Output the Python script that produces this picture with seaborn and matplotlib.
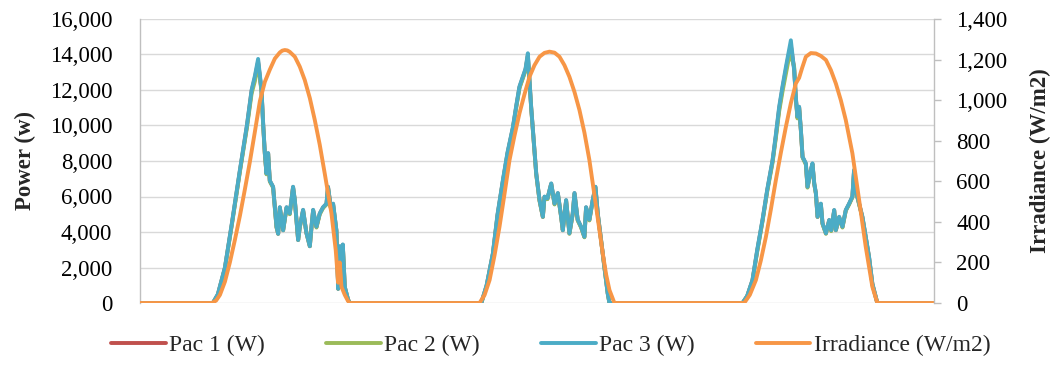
import matplotlib
matplotlib.use("Agg")
import matplotlib.pyplot as plt
import seaborn as sns
from matplotlib.ticker import FuncFormatter

# ---------------- data (time in hours from start of day 1) ----------------
power_hours = [
    0.0,
    6.61, 7.06, 7.70, 8.33, 9.06, 9.69, 10.12, 10.42, 10.71, 11.02, 11.17, 11.32,
    11.47, 11.62, 11.77, 12.07, 12.38, 12.53, 12.68, 12.98, 13.29, 13.58, 13.88,
    14.04, 14.34, 14.49, 14.79, 15.09, 15.40, 15.55, 15.70, 16.00, 16.30, 16.60,
    16.91, 17.05, 17.30, 17.51, 17.81, 17.97, 18.11, 18.27, 18.39, 18.57, 18.86, 19.02,
    30.95, 31.43, 32.00, 32.42, 32.90, 33.33, 33.81, 34.14, 34.41, 34.71, 34.96,
    35.17, 35.47, 35.77, 35.93, 36.23, 36.53, 36.68, 36.95, 37.29, 37.59, 37.89,
    38.19, 38.34, 38.64, 38.94, 39.24, 39.40, 39.69, 40.00, 40.30, 40.45, 40.75,
    41.05, 41.30, 41.51, 41.81, 42.11, 42.41, 42.57,
    54.64, 55.06, 55.54, 55.97, 56.45, 56.88, 57.36, 57.66, 57.96, 58.26, 58.57,
    58.78, 59.02, 59.32, 59.47, 59.62, 59.77, 59.93, 60.08, 60.38, 60.53, 60.83,
    60.98, 61.14, 61.29, 61.44, 61.74, 61.89, 62.20, 62.50, 62.68, 62.95, 63.10,
    63.40, 63.70, 64.00, 64.30, 64.60, 64.75, 64.91, 65.21, 65.51, 65.81, 66.11,
    66.41, 66.72, 66.86,
    72.0,
]

pac3 = [
    0,
    0, 500, 2000, 4500, 7500, 10000, 12000, 12800, 13750, 12000, 10100, 8450,
    7300, 8450, 6900, 6550, 4300, 3900, 5400, 4100, 5400, 5050, 6550,
    5800, 3550, 4300, 5250, 3950, 3200, 4300, 5250, 4300, 5050, 5400,
    5600, 6550, 5400, 5600, 4100, 800, 3200, 2400, 3300, 900, 200, 0,
    0, 1000, 2800, 5000, 6900, 8500, 9900, 11200, 12200, 12750, 13200,
    14070, 11060, 8600, 7300, 5800, 4860, 6000, 5900, 6740, 5600, 6200,
    4860, 4100, 5800, 3930, 5050, 6200, 4700, 4300, 3730, 5400, 4700,
    5800, 6550, 5050, 3550, 2050, 550, 0,
    0, 400, 1300, 3000, 4700, 6400, 8050, 9500, 11060, 12200, 13300,
    14000, 14800, 13100, 11600, 10500, 11060, 9750, 8240, 7870, 6550, 7500,
    7870, 6740, 6200, 4860, 5600, 4500, 3930, 4680, 4100, 5240, 4110,
    4860, 4300, 5240, 5600, 6000, 7500, 6370, 5600, 4860, 3730, 2600,
    1100, 350, 0,
    0,
]

pac2 = [
    0,
    0, 450, 1950, 4400, 7400, 9850, 11800, 12500, 13500, 11900, 10000, 8400,
    7250, 8400, 6850, 6500, 4250, 3900, 5350, 4100, 5350, 5000, 6500,
    5750, 3550, 4250, 5200, 3950, 3200, 4250, 5200, 4250, 5000, 5350,
    5550, 6500, 5350, 5550, 4050, 800, 3150, 2350, 3250, 900, 200, 0,
    0, 950, 2750, 4900, 6800, 8400, 9800, 11100, 12100, 12650, 13100,
    13900, 11000, 8550, 7250, 5750, 4850, 5950, 5850, 6700, 5550, 6150,
    4850, 4100, 5750, 3900, 5000, 6150, 4650, 4250, 3700, 5350, 4650,
    5750, 6500, 5000, 3550, 2000, 550, 0,
    0, 380, 1250, 2900, 4600, 6300, 7900, 9300, 10800, 11900, 12900,
    13600, 14000, 13300, 11500, 10400, 11000, 9700, 8200, 7800, 6500, 7450,
    7800, 6700, 6150, 4850, 5550, 4450, 3900, 4650, 4050, 5200, 4100,
    4800, 4250, 5200, 5550, 5950, 7400, 6300, 5550, 4800, 3700, 2550,
    1050, 330, 0,
    0,
]

pac1 = [
    0,
    0, 480, 1980, 4450, 7450, 9950, 11950, 12700, 13600, 11950, 10050, 8420,
    7280, 8420, 6880, 6530, 4280, 3900, 5380, 4100, 5380, 5030, 6530,
    5780, 3550, 4280, 5230, 3950, 3200, 4280, 5230, 4280, 5030, 5380,
    5580, 6530, 5380, 5580, 4080, 800, 3180, 2380, 3280, 900, 200, 0,
    0, 980, 2780, 4950, 6850, 8450, 9850, 11150, 12150, 12700, 13150,
    13950, 11030, 8580, 7280, 5780, 4850, 5980, 5880, 6720, 5580, 6180,
    4850, 4100, 5780, 3920, 5030, 6180, 4680, 4280, 3720, 5380, 4680,
    5780, 6530, 5030, 3550, 2030, 550, 0,
    0, 390, 1280, 2950, 4650, 6350, 8000, 9400, 10950, 12100, 13150,
    13850, 14500, 13200, 11550, 10450, 11030, 9720, 8220, 7840, 6530, 7480,
    7840, 6720, 6180, 4850, 5580, 4480, 3920, 4670, 4080, 5220, 4100,
    4830, 4280, 5220, 5580, 5980, 7450, 6340, 5580, 4830, 3720, 2580,
    1080, 340, 0,
    0,
]

irr_hours = [
    0.0,
    6.52, 6.90, 7.25, 7.70, 8.15, 8.60, 9.06, 9.51, 9.96, 10.42, 10.87, 11.32,
    11.77, 12.23, 12.68, 12.90, 13.13, 13.36, 13.58, 14.04, 14.49, 14.94, 15.40,
    15.85, 16.30, 16.75, 17.36, 17.75, 17.97, 18.11, 18.27, 18.57, 18.86, 19.02,
    30.79, 31.25, 31.70, 32.15, 32.60, 33.06, 33.51, 33.96, 34.41, 34.87, 35.32,
    35.77, 36.23, 36.68, 37.13, 37.59, 38.04, 38.49, 38.94, 39.40, 39.85, 40.30,
    40.75, 41.36, 41.96, 42.27, 42.57, 43.02,
    54.79, 55.30, 55.85, 56.30, 56.76, 57.21, 57.66, 58.11, 58.57, 59.02, 59.47,
    59.77, 60.05, 60.38, 60.83, 61.29, 61.74, 62.20, 62.65, 63.10, 63.55, 64.00,
    64.60, 65.21, 65.81, 66.41, 66.86,
    72.0,
]

irradiance = [
    0,
    0, 12, 40, 105, 200, 310, 430, 560, 695, 845, 995, 1090,
    1150, 1205, 1235, 1244, 1247, 1245, 1238, 1214, 1165, 1099, 1010,
    902, 780, 639, 442, 260, 100, 200, 80, 40, 10, 0,
    0, 40, 113, 235, 376, 540, 705, 825, 935, 1030, 1115,
    1172, 1214, 1233, 1239, 1234, 1214, 1172, 1115, 1040, 951, 840,
    705, 475, 245, 140, 64, 0,
    0, 40, 113, 210, 327, 462, 606, 740, 869, 985, 1082,
    1110, 1160, 1214, 1232, 1230, 1218, 1198, 1148, 1082, 1000, 902,
    738, 508, 277, 80, 0,
    0,
]

series_labels = ["Pac 1 (W)", "Pac 2 (W)", "Pac 3 (W)", "Irradiance (W/m2)"]
power_ticks = [0, 2000, 4000, 6000, 8000, 10000, 12000, 14000, 16000]
irr_ticks = [0, 200, 400, 600, 800, 1000, 1200, 1400]

# ---------------- style ----------------
sns.set_theme(style="white")
plt.rcParams['font.family'] = ['Liberation Serif', 'DejaVu Serif']

colors = ["#C0504D", "#9BBB59", "#4BACC6", "#F79646"]
LW = 2.8

fig = plt.figure(figsize=(10.56, 3.67), dpi=100)
ax = fig.add_axes([140 / 1056, 1 - 303 / 367, (934 - 140) / 1056, (303 - 19) / 367])
ax2 = ax.twinx()

for vals, lab, col in zip([pac1, pac2, pac3], series_labels[:3], colors[:3]):
    sns.lineplot(x=power_hours, y=vals, ax=ax, color=col, linewidth=LW,
                 label=lab, estimator=None, sort=False)
sns.lineplot(x=irr_hours, y=irradiance, ax=ax2, color=colors[3], linewidth=LW,
             label=series_labels[3], estimator=None, sort=False)

h1, l1 = ax.get_legend_handles_labels()
h2, l2 = ax2.get_legend_handles_labels()
if ax.legend_ is not None:
    ax.legend_.remove()
if ax2.legend_ is not None:
    ax2.legend_.remove()

ax.set_xlim(0, 72)
ax.set_ylim(0, 16000)
ax2.set_ylim(0, 1400)
ax.set_xticks([])
ax.set_yticks(power_ticks)
ax2.set_yticks(irr_ticks)
ax.yaxis.set_major_formatter(FuncFormatter(lambda v, p: f"{v:,.0f}"))
ax2.yaxis.set_major_formatter(FuncFormatter(lambda v, p: f"{v:,.0f}"))

ax.grid(axis='y', color='#D9D9D9', linewidth=1.0)
ax.set_axisbelow(True)
ax2.grid(False)

for a in (ax, ax2):
    for s in ('top', 'bottom'):
        a.spines[s].set_visible(False)
ax.spines['right'].set_visible(False)
ax.spines['left'].set_color('#BFBFBF')
ax.spines['left'].set_linewidth(1.0)
ax2.spines['left'].set_visible(False)
ax2.spines['right'].set_color('#BFBFBF')
ax2.spines['right'].set_linewidth(1.0)

ax.tick_params(axis='y', length=0, pad=20, labelsize=16.5, labelcolor='#000000')
ax2.tick_params(axis='y', length=5, width=1, color='#BFBFBF', pad=11,
                labelsize=16.5, labelcolor='#000000', direction='out')
ax.tick_params(axis='x', length=0)

ax.set_ylabel("Power (w)", fontsize=16.5, fontweight='bold', labelpad=10)
ax2.set_ylabel("Irradiance (W/m2)", fontsize=16.5, fontweight='bold', labelpad=16)
ax.set_xlabel("")

fig.legend(h1 + h2, l1 + l2, loc='center', bbox_to_anchor=(551 / 1056, 1 - 345 / 367),
           ncol=4, frameon=False, fontsize=17, handlelength=2.3, handletextpad=0.15,
           columnspacing=2.6)

fig.savefig("out.png", dpi=100)
